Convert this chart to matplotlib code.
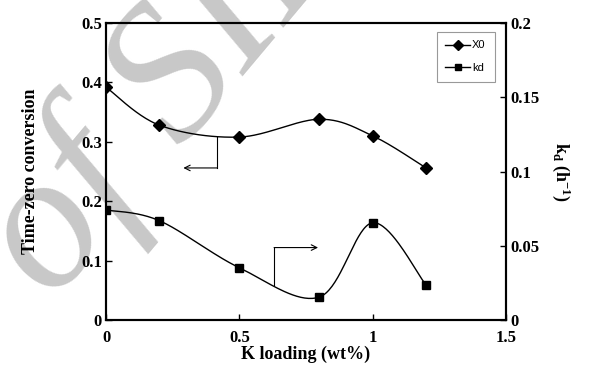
import numpy as np
from matplotlib import pyplot as plt

# K loading (wt%) and the two measured series
k_loading = [0, 0.2, 0.5, 0.8, 1.0, 1.2]
x0 = [0.392, 0.328, 0.308, 0.338, 0.310, 0.256]      # time-zero conversion
kd = [0.0741, 0.0669, 0.0352, 0.0155, 0.0655, 0.0236]  # deactivation constant (h-1)


def smooth(x, y, n=40):
    # Catmull-Rom style smoothing through every point (like a spreadsheet smoothed line)
    x = np.asarray(x, float)
    y = np.asarray(y, float)
    px = np.concatenate([[x[0]], x, [x[-1]]])
    py = np.concatenate([[y[0]], y, [y[-1]]])
    xs, ys = [], []
    t = np.linspace(0, 1, n)
    for i in range(1, len(px) - 2):
        p0 = np.array([px[i], py[i]])
        p3 = np.array([px[i + 1], py[i + 1]])
        p1 = p0 + (p3 - np.array([px[i - 1], py[i - 1]])) / 6
        p2 = p3 - (np.array([px[i + 2], py[i + 2]]) - p0) / 6
        b = ((1 - t) ** 3)[:, None] * p0 + (3 * (1 - t) ** 2 * t)[:, None] * p1 \
            + (3 * (1 - t) * t ** 2)[:, None] * p2 + (t ** 3)[:, None] * p3
        xs.extend(b[:, 0])
        ys.extend(b[:, 1])
    return xs, ys


plt.rcParams['font.family'] = 'Liberation Serif'
plt.rcParams['font.weight'] = 'bold'
plt.rcParams['axes.labelweight'] = 'bold'
plt.rcParams['mathtext.fontset'] = 'custom'
plt.rcParams['mathtext.bf'] = 'Liberation Serif:bold'
plt.rcParams['mathtext.rm'] = 'Liberation Serif:bold'

fig = plt.figure(figsize=(5.94, 3.87), dpi=100)

# faint watermark behind everything
fig.text(0.089, 0.217, 'of SID', fontsize=140, color='#c8c8c8', style='italic',
         fontweight='normal', rotation=50, rotation_mode='anchor',
         ha='left', va='baseline', zorder=-1)

ax = fig.add_axes([0.1785, 0.173, 0.6735, 0.7676])
ax.patch.set_alpha(0)
ax2 = ax.twinx()

sx, sy = smooth(k_loading, x0)
ax.plot(sx, sy, color='black', lw=1)
ax.plot(k_loading, x0, 'D', color='black', ms=6)
l1, = ax.plot([], [], '-D', color='black', lw=1, ms=5, label='X0')

sx, sy = smooth(k_loading, kd)
ax2.plot(sx, sy, color='black', lw=1)
ax2.plot(k_loading, kd, 's', color='black', ms=6)
l2, = ax2.plot([], [], '-s', color='black', lw=1, ms=5, label='kd')

# arrows pointing to the axis each curve belongs to
ax.plot([0.416, 0.416], [0.308, 0.256], color='black', lw=0.8)
ax.annotate('', xy=(0.29, 0.256), xytext=(0.416, 0.256),
            arrowprops=dict(arrowstyle='->', color='black', lw=0.8, shrinkA=0, shrinkB=0))
ax.plot([0.63, 0.63], [0.059, 0.122], color='black', lw=0.8)
ax.annotate('', xy=(0.795, 0.122), xytext=(0.63, 0.122),
            arrowprops=dict(arrowstyle='->', color='black', lw=0.8, shrinkA=0, shrinkB=0))

ax.set_xlim(0, 1.5)
ax.set_ylim(0, 0.5)
ax2.set_ylim(0, 0.2)
ax.set_xticks([0, 0.5, 1, 1.5])
ax.set_xticklabels(['0', '0.5', '1', '1.5'], fontweight='bold')
ax.set_yticks([0, 0.1, 0.2, 0.3, 0.4, 0.5])
ax.set_yticklabels(['0', '0.1', '0.2', '0.3', '0.4', '0.5'], fontweight='bold')
ax2.set_yticks([0, 0.05, 0.1, 0.15, 0.2])
ax2.set_yticklabels(['0', '0.05', '0.1', '0.15', '0.2'], fontweight='bold')

for a in (ax, ax2):
    a.tick_params(direction='in', length=4, width=1, labelsize=12, pad=3)
    for s in a.spines.values():
        s.set_linewidth(1.5)
ax.tick_params(axis='x', pad=7)

ax.set_xlabel('K loading (wt%)', fontsize=13, fontweight='bold', labelpad=0)
ax.set_ylabel('Time-zero conversion', fontsize=13, fontweight='bold', labelpad=30)
ax2.set_ylabel(r'$\mathbf{k_d}$ $\mathbf{(h^{-1})}$', fontsize=13, rotation=270, labelpad=24)

leg = ax2.legend(handles=[l1, l2], loc='upper right', bbox_to_anchor=(0.985, 0.99),
                 prop={'family': 'Liberation Sans', 'size': 8, 'weight': 'normal'},
                 fancybox=False, edgecolor='#808080', handlelength=2.2, labelspacing=1.1,
                 borderpad=0.8, handletextpad=0.2)
leg.get_frame().set_linewidth(0.8)

fig.savefig('out.png', dpi=100)
